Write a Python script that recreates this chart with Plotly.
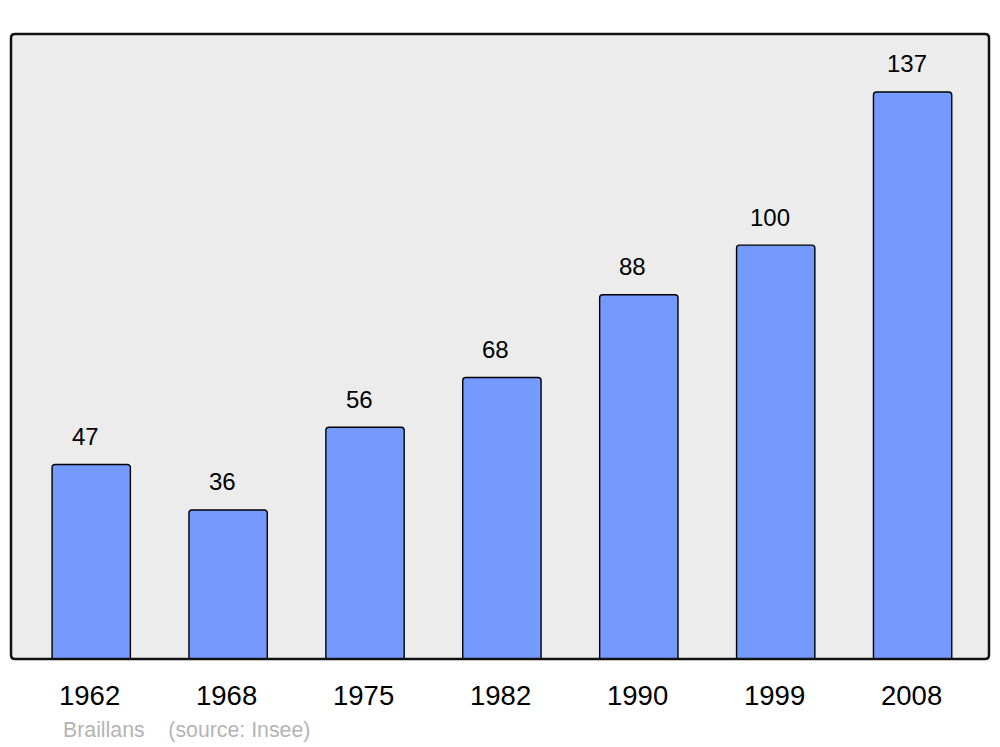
import plotly.graph_objects as go

years = ["1962", "1968", "1975", "1982", "1990", "1999", "2008"]
population = [47, 36, 56, 68, 88, 100, 137]
commune = "Braillans"
source = "(source: Insee)"

# page body has an 8px margin; size the figure so the plot lands where the reference has it
OFF = 8
W, H = 1000 - OFF, 747 - OFF
L, R, T = 11 - OFF, 11, 34 - OFF
B = H - (659 - OFF)
pw, ph = W - L - R, H - T - B

fig = go.Figure()
fig.add_trace(go.Bar(
    x=years, y=population, width=0.572,
    marker=dict(color="#7499ff", line=dict(color="black", width=1.4), cornerradius=3),
    hoverinfo="x+y",
))

font = "Liberation Sans, Arial, sans-serif"
ann = []
for i, (yr, v) in enumerate(zip(years, population)):
    ann.append(dict(x=i, y=v, xref="x", yref="y", text=str(v), showarrow=False,
                    xanchor="center", yanchor="middle", yshift=28, xshift=-6,
                    font=dict(family=font, size=24, color="black")))
    ann.append(dict(x=i, y=0, xref="x", yref="y", text=yr, showarrow=False,
                    xanchor="center", yanchor="middle", yshift=-36, xshift=-1.5,
                    font=dict(family=font, size=27.5, color="black")))
ann.append(dict(x=(61 - 11) / pw, y=-(730 - 659) / ph, xref="paper", yref="paper",
                text=commune + "&nbsp;&nbsp;&nbsp;&nbsp;" + source, showarrow=False,
                xanchor="left", yanchor="middle",
                font=dict(family=font, size=21.3, color="#b4b4b4")))

# rounded border around plot area (paper coords)
rx, ry = 4 / pw, 4 / ph
path = (f"M {rx},0 L {1-rx},0 Q 1,0 1,{ry} L 1,{1-ry} Q 1,1 {1-rx},1 "
        f"L {rx},1 Q 0,1 0,{1-ry} L 0,{ry} Q 0,0 {rx},0 Z")

fig.update_layout(
    width=W, height=H,
    margin=dict(l=L, r=R, t=T, b=B, pad=0),
    paper_bgcolor="white", plot_bgcolor="#ececec",
    showlegend=False,
    xaxis=dict(type="category", range=[-0.586, 6.558], showticklabels=False,
               showgrid=False, zeroline=False, ticks=""),
    yaxis=dict(range=[0, 151], showticklabels=False, showgrid=False, zeroline=False, ticks=""),
    annotations=ann,
    shapes=[dict(type="path", xref="paper", yref="paper", path=path,
                 line=dict(color="#111111", width=2.5), layer="above")],
)

fig.write_html("out.html")
